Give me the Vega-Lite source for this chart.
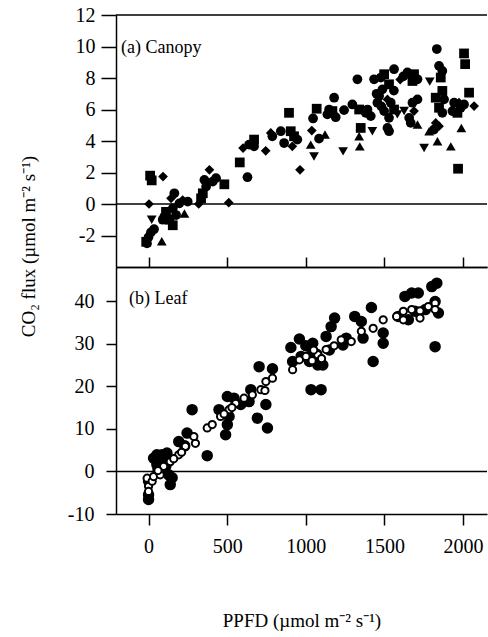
{
  "$schema": "https://vega.github.io/schema/vega-lite/v6.json",
  "background": "white",
  "padding": {"left": 19, "top": 5, "right": 0, "bottom": 5},
  "spacing": 0,
  "bounds": "flush",
  "config": {
    "view": {"stroke": null},
    "axis": {
      "grid": false,
      "domainColor": "black",
      "domainWidth": 1.5,
      "tickColor": "black",
      "tickWidth": 1.5,
      "labelColor": "black",
      "labelFont": "Liberation Serif",
      "labelFontSize": 20,
      "labelOverlap": false,
      "titleFont": "Liberation Serif",
      "titleFontSize": 19,
      "titleFontWeight": "normal",
      "titleColor": "black"
    }
  },
  "vconcat": [
    {
      "width": 371,
      "height": 252,
      "layer": [
        {
          "data": {"values": [{"flux": 0}, {"flux": 12}]},
          "mark": {"type": "rule", "color": "black", "strokeWidth": 1.5},
          "encoding": {
            "y": {
              "field": "flux",
              "type": "quantitative",
              "scale": {"domain": [-4, 12], "nice": false, "zero": false},
              "axis": {
                "values": [-2, 0, 2, 4, 6, 8, 10, 12],
                "labelExpr": "'' + datum.value",
                "tickSize": 15,
                "labelPadding": 6,
                "title": "CO₂ flux (µmol m⁻² s⁻¹)",
                "titleX": -88,
                "titleY": 231,
                "titleAngle": -90,
                "titleBaseline": "middle"
              }
            }
          }
        },
        {
          "data": {
            "values": [
              {"ppfd": 10, "flux": 1.8, "series": "q"},
              {"ppfd": 20, "flux": 1.5, "series": "q"},
              {"ppfd": 92, "flux": 1.74, "series": "m"},
              {"ppfd": 3, "flux": 0, "series": "m"},
              {"ppfd": 20, "flux": -1.0, "series": "d"},
              {"ppfd": 35, "flux": -1.6, "series": "c"},
              {"ppfd": 15, "flux": -1.8, "series": "c"},
              {"ppfd": 0, "flux": -2.1, "series": "c"},
              {"ppfd": -10, "flux": -2.5, "series": "c"},
              {"ppfd": -15, "flux": -2.4, "series": "q"},
              {"ppfd": 84, "flux": -2.36, "series": "u"},
              {"ppfd": 164, "flux": 0.68, "series": "c"},
              {"ppfd": 143, "flux": 0.36, "series": "m"},
              {"ppfd": 196, "flux": 0.04, "series": "c"},
              {"ppfd": 217, "flux": 0.25, "series": "m"},
              {"ppfd": 249, "flux": 0.15, "series": "c"},
              {"ppfd": 228, "flux": -0.6, "series": "u"},
              {"ppfd": 111, "flux": -0.5, "series": "q"},
              {"ppfd": 154, "flux": -0.28, "series": "c"},
              {"ppfd": 133, "flux": -1.0, "series": "q"},
              {"ppfd": 90, "flux": -1.0, "series": "c"},
              {"ppfd": 154, "flux": -1.35, "series": "q"},
              {"ppfd": 100, "flux": -0.8, "series": "c"},
              {"ppfd": 175, "flux": -0.7, "series": "c"},
              {"ppfd": 319, "flux": 0, "series": "m"},
              {"ppfd": 387, "flux": 2.17, "series": "m"},
              {"ppfd": 355, "flux": 1.53, "series": "c"},
              {"ppfd": 408, "flux": 1.42, "series": "c"},
              {"ppfd": 366, "flux": 1.1, "series": "c"},
              {"ppfd": 345, "flux": 0.68, "series": "q"},
              {"ppfd": 334, "flux": 0.36, "series": "q"},
              {"ppfd": 429, "flux": 1.64, "series": "c"},
              {"ppfd": 482, "flux": 1.25, "series": "q"},
              {"ppfd": 510, "flux": 0.08, "series": "m"},
              {"ppfd": 629, "flux": 1.7, "series": "c"},
              {"ppfd": 580, "flux": 2.64, "series": "q"},
              {"ppfd": 601, "flux": 3.55, "series": "m"},
              {"ppfd": 639, "flux": 3.77, "series": "c"},
              {"ppfd": 671, "flux": 4.09, "series": "q"},
              {"ppfd": 671, "flux": 3.66, "series": "c"},
              {"ppfd": 745, "flux": 3.38, "series": "m"},
              {"ppfd": 777, "flux": 4.51, "series": "m"},
              {"ppfd": 787, "flux": 4.3, "series": "c"},
              {"ppfd": 841, "flux": 4.62, "series": "c"},
              {"ppfd": 893, "flux": 5.79, "series": "q"},
              {"ppfd": 862, "flux": 3.87, "series": "c"},
              {"ppfd": 904, "flux": 4.62, "series": "q"},
              {"ppfd": 914, "flux": 3.66, "series": "m"},
              {"ppfd": 946, "flux": 4.09, "series": "c"},
              {"ppfd": 925, "flux": 4.3, "series": "q"},
              {"ppfd": 963, "flux": 2.17, "series": "m"},
              {"ppfd": 1031, "flux": 3.77, "series": "u"},
              {"ppfd": 1038, "flux": 4.66, "series": "m"},
              {"ppfd": 1052, "flux": 3.02, "series": "d"},
              {"ppfd": 1046, "flux": 5.43, "series": "c"},
              {"ppfd": 1069, "flux": 6.05, "series": "q"},
              {"ppfd": 1084, "flux": 4.15, "series": "c"},
              {"ppfd": 1122, "flux": 4.41, "series": "u"},
              {"ppfd": 1137, "flux": 5.69, "series": "c"},
              {"ppfd": 1148, "flux": 6.0, "series": "c"},
              {"ppfd": 1180, "flux": 6.75, "series": "c"},
              {"ppfd": 1190, "flux": 5.51, "series": "c"},
              {"ppfd": 1169, "flux": 5.9, "series": "q"},
              {"ppfd": 1237, "flux": 3.34, "series": "d"},
              {"ppfd": 1243, "flux": 5.96, "series": "c"},
              {"ppfd": 1296, "flux": 6.32, "series": "c"},
              {"ppfd": 1328, "flux": 7.92, "series": "c"},
              {"ppfd": 1339, "flux": 6.0, "series": "q"},
              {"ppfd": 1349, "flux": 4.83, "series": "q"},
              {"ppfd": 1339, "flux": 4.3, "series": "u"},
              {"ppfd": 1343, "flux": 3.66, "series": "u"},
              {"ppfd": 1381, "flux": 5.79, "series": "c"},
              {"ppfd": 1413, "flux": 5.58, "series": "c"},
              {"ppfd": 1392, "flux": 6.0, "series": "c"},
              {"ppfd": 1423, "flux": 4.62, "series": "d"},
              {"ppfd": 1434, "flux": 7.92, "series": "c"},
              {"ppfd": 1477, "flux": 8.03, "series": "c"},
              {"ppfd": 1498, "flux": 8.24, "series": "q"},
              {"ppfd": 1561, "flux": 8.56, "series": "c"},
              {"ppfd": 1529, "flux": 7.6, "series": "q"},
              {"ppfd": 1487, "flux": 7.28, "series": "c"},
              {"ppfd": 1466, "flux": 6.86, "series": "c"},
              {"ppfd": 1455, "flux": 6.43, "series": "c"},
              {"ppfd": 1519, "flux": 6.64, "series": "m"},
              {"ppfd": 1540, "flux": 6.43, "series": "c"},
              {"ppfd": 1498, "flux": 5.9, "series": "c"},
              {"ppfd": 1561, "flux": 6.0, "series": "q"},
              {"ppfd": 1529, "flux": 5.47, "series": "c"},
              {"ppfd": 1582, "flux": 5.69, "series": "d"},
              {"ppfd": 1519, "flux": 4.83, "series": "c"},
              {"ppfd": 1529, "flux": 4.62, "series": "c"},
              {"ppfd": 1625, "flux": 5.9, "series": "d"},
              {"ppfd": 1646, "flux": 8.35, "series": "c"},
              {"ppfd": 1688, "flux": 8.24, "series": "q"},
              {"ppfd": 1710, "flux": 7.92, "series": "c"},
              {"ppfd": 1678, "flux": 7.81, "series": "q"},
              {"ppfd": 1678, "flux": 6.43, "series": "c"},
              {"ppfd": 1710, "flux": 6.64, "series": "c"},
              {"ppfd": 1688, "flux": 5.9, "series": "m"},
              {"ppfd": 1657, "flux": 5.47, "series": "c"},
              {"ppfd": 1667, "flux": 5.15, "series": "c"},
              {"ppfd": 1710, "flux": 5.05, "series": "u"},
              {"ppfd": 1752, "flux": 3.55, "series": "d"},
              {"ppfd": 1788, "flux": 7.77, "series": "d"},
              {"ppfd": 1784, "flux": 4.62, "series": "u"},
              {"ppfd": 1833, "flux": 9.84, "series": "c"},
              {"ppfd": 1847, "flux": 8.77, "series": "c"},
              {"ppfd": 1868, "flux": 8.45, "series": "c"},
              {"ppfd": 1858, "flux": 8.03, "series": "q"},
              {"ppfd": 1868, "flux": 7.18, "series": "q"},
              {"ppfd": 1826, "flux": 6.75, "series": "q"},
              {"ppfd": 1879, "flux": 6.64, "series": "c"},
              {"ppfd": 1847, "flux": 6.11, "series": "q"},
              {"ppfd": 1868, "flux": 5.79, "series": "c"},
              {"ppfd": 1826, "flux": 5.15, "series": "m"},
              {"ppfd": 1847, "flux": 4.94, "series": "m"},
              {"ppfd": 1815, "flux": 4.73, "series": "c"},
              {"ppfd": 1837, "flux": 3.98, "series": "u"},
              {"ppfd": 1922, "flux": 3.66, "series": "u"},
              {"ppfd": 1932, "flux": 5.9, "series": "c"},
              {"ppfd": 1964, "flux": 5.79, "series": "q"},
              {"ppfd": 1985, "flux": 6.11, "series": "c"},
              {"ppfd": 2006, "flux": 6.32, "series": "c"},
              {"ppfd": 1974, "flux": 6.43, "series": "m"},
              {"ppfd": 1943, "flux": 6.43, "series": "c"},
              {"ppfd": 2006, "flux": 9.56, "series": "q"},
              {"ppfd": 2013, "flux": 8.88, "series": "q"},
              {"ppfd": 2038, "flux": 7.07, "series": "q"},
              {"ppfd": 2070, "flux": 6.22, "series": "m"},
              {"ppfd": 1989, "flux": 4.83, "series": "u"},
              {"ppfd": 1968, "flux": 2.24, "series": "q"},
              {"ppfd": 1450, "flux": 7.0, "series": "c"},
              {"ppfd": 1480, "flux": 6.2, "series": "c"},
              {"ppfd": 1600, "flux": 7.9, "series": "m"},
              {"ppfd": 1620, "flux": 8.1, "series": "c"},
              {"ppfd": 1560, "flux": 7.2, "series": "c"}
            ]
          },
          "mark": {"type": "point", "filled": true, "color": "black", "opacity": 1, "size": 95},
          "encoding": {
            "x": {
              "field": "ppfd",
              "type": "quantitative",
              "scale": {"domain": [-207, 2152], "nice": false, "zero": false},
              "axis": {"values": [0, 500, 1000, 1500, 2000], "labels": false, "ticks": false, "title": null}
            },
            "y": {
              "field": "flux",
              "type": "quantitative",
              "scale": {"domain": [-4, 12], "nice": false, "zero": false},
              "axis": {
                "values": [-2, 0, 2, 4, 6, 8, 10, 12],
                "labelExpr": "'' + datum.value",
                "tickSize": 15,
                "labelPadding": 6,
                "title": "CO₂ flux (µmol m⁻² s⁻¹)",
                "titleX": -88,
                "titleY": 231,
                "titleAngle": -90,
                "titleBaseline": "middle"
              }
            },
            "shape": {
              "field": "series",
              "type": "nominal",
              "scale": {"domain": ["c", "q", "u", "d", "m"], "range": ["circle", "square", "triangle-up", "triangle-down", "diamond"]},
              "legend": null
            }
          }
        },
        {
          "data": {"values": [{"label": "(a) Canopy"}]},
          "mark": {"type": "text", "align": "left", "baseline": "middle", "font": "Liberation Serif", "fontSize": 18, "color": "black"},
          "encoding": {
            "x": {
              "datum": -175,
              "type": "quantitative",
              "scale": {"domain": [-207, 2152], "nice": false, "zero": false},
              "axis": {"values": [0, 500, 1000, 1500, 2000], "labels": false, "ticks": false, "title": null}
            },
            "y": {
              "datum": 9.9,
              "type": "quantitative",
              "scale": {"domain": [-4, 12], "nice": false, "zero": false},
              "axis": {
                "values": [-2, 0, 2, 4, 6, 8, 10, 12],
                "labelExpr": "'' + datum.value",
                "tickSize": 15,
                "labelPadding": 6,
                "title": "CO₂ flux (µmol m⁻² s⁻¹)",
                "titleX": -88,
                "titleY": 231,
                "titleAngle": -90,
                "titleBaseline": "middle"
              }
            },
            "text": {"field": "label"}
          }
        }
      ]
    },
    {
      "width": 371,
      "height": 247,
      "resolve": {"axis": {"x": "independent"}},
      "layer": [
        {
          "data": {"values": [{"flux": 0}]},
          "mark": {"type": "rule", "color": "black", "strokeWidth": 1.5},
          "encoding": {
            "y": {
              "field": "flux",
              "type": "quantitative",
              "scale": {"domain": [-10, 48], "nice": false, "zero": false},
              "axis": {"values": [-10, 0, 10, 20, 30, 40], "labelExpr": "'' + datum.value", "tickSize": 10, "labelPadding": 12, "title": null}
            }
          }
        },
        {
          "data": {
            "values": [
              {"ppfd": 1833, "flux": 44.2, "kind": "observed"},
              {"ppfd": 1801, "flux": 43.4, "kind": "observed"},
              {"ppfd": 1630, "flux": 41.1, "kind": "observed"},
              {"ppfd": 1673, "flux": 41.9, "kind": "observed"},
              {"ppfd": 1715, "flux": 41.9, "kind": "observed"},
              {"ppfd": 1417, "flux": 38.5, "kind": "observed"},
              {"ppfd": 1353, "flux": 35.2, "kind": "observed"},
              {"ppfd": 1311, "flux": 36.4, "kind": "observed"},
              {"ppfd": 1183, "flux": 36.0, "kind": "observed"},
              {"ppfd": 1161, "flux": 34.0, "kind": "observed"},
              {"ppfd": 1492, "flux": 32.5, "kind": "observed"},
              {"ppfd": 1492, "flux": 30.1, "kind": "observed"},
              {"ppfd": 1428, "flux": 25.8, "kind": "observed"},
              {"ppfd": 1822, "flux": 29.3, "kind": "observed"},
              {"ppfd": 1843, "flux": 37.2, "kind": "observed"},
              {"ppfd": 1822, "flux": 39.9, "kind": "observed"},
              {"ppfd": 1364, "flux": 31.3, "kind": "observed"},
              {"ppfd": 905, "flux": 29.1, "kind": "observed"},
              {"ppfd": 959, "flux": 31.1, "kind": "observed"},
              {"ppfd": 1044, "flux": 30.1, "kind": "observed"},
              {"ppfd": 1033, "flux": 19.2, "kind": "observed"},
              {"ppfd": 1097, "flux": 19.2, "kind": "observed"},
              {"ppfd": 916, "flux": 25.8, "kind": "observed"},
              {"ppfd": 1023, "flux": 25.8, "kind": "observed"},
              {"ppfd": 1076, "flux": 25.0, "kind": "observed"},
              {"ppfd": 1108, "flux": 25.0, "kind": "observed"},
              {"ppfd": 1129, "flux": 31.7, "kind": "observed"},
              {"ppfd": 703, "flux": 24.6, "kind": "observed"},
              {"ppfd": 788, "flux": 24.1, "kind": "observed"},
              {"ppfd": 746, "flux": 15.7, "kind": "observed"},
              {"ppfd": 692, "flux": 12.5, "kind": "observed"},
              {"ppfd": 756, "flux": 10.2, "kind": "observed"},
              {"ppfd": 490, "flux": 8.6, "kind": "observed"},
              {"ppfd": 277, "flux": 14.5, "kind": "observed"},
              {"ppfd": 373, "flux": 3.7, "kind": "observed"},
              {"ppfd": 650, "flux": 19.2, "kind": "observed"},
              {"ppfd": 501, "flux": 17.6, "kind": "observed"},
              {"ppfd": 543, "flux": 17.2, "kind": "observed"},
              {"ppfd": 448, "flux": 14.5, "kind": "observed"},
              {"ppfd": 512, "flux": 12.9, "kind": "observed"},
              {"ppfd": 501, "flux": 11.0, "kind": "observed"},
              {"ppfd": 245, "flux": 9.0, "kind": "observed"},
              {"ppfd": 192, "flux": 7.0, "kind": "observed"},
              {"ppfd": 138, "flux": -3.1, "kind": "observed"},
              {"ppfd": 32, "flux": 3.1, "kind": "observed"},
              {"ppfd": 85, "flux": 3.9, "kind": "observed"},
              {"ppfd": 53, "flux": 1.6, "kind": "observed"},
              {"ppfd": 106, "flux": 2.3, "kind": "observed"},
              {"ppfd": 96, "flux": 0.4, "kind": "observed"},
              {"ppfd": 128, "flux": -0.8, "kind": "observed"},
              {"ppfd": 0, "flux": -5.5, "kind": "observed"},
              {"ppfd": 0, "flux": -6.6, "kind": "observed"},
              {"ppfd": 0, "flux": -2.3, "kind": "observed"},
              {"ppfd": 586, "flux": 15.7, "kind": "observed"},
              {"ppfd": 639, "flux": 16.4, "kind": "observed"},
              {"ppfd": 1236, "flux": 29.7, "kind": "observed"},
              {"ppfd": 1257, "flux": 31.3, "kind": "observed"},
              {"ppfd": 1588, "flux": 36.4, "kind": "observed"},
              {"ppfd": 1652, "flux": 35.6, "kind": "observed"},
              {"ppfd": 1694, "flux": 37.6, "kind": "observed"},
              {"ppfd": 53, "flux": 3.9, "kind": "observed"},
              {"ppfd": 117, "flux": 4.3, "kind": "observed"},
              {"ppfd": 75, "flux": 2.5, "kind": "observed"},
              {"ppfd": 60, "flux": 0.5, "kind": "observed"},
              {"ppfd": 110, "flux": 1.2, "kind": "observed"},
              {"ppfd": 150, "flux": -1.5, "kind": "observed"},
              {"ppfd": 230, "flux": 6.0, "kind": "observed"},
              {"ppfd": 1040, "flux": 28.0, "kind": "observed"},
              {"ppfd": 1070, "flux": 27.5, "kind": "observed"},
              {"ppfd": 970, "flux": 27.0, "kind": "observed"},
              {"ppfd": 1000, "flux": 29.5, "kind": "observed"},
              {"ppfd": 1150, "flux": 28.5, "kind": "observed"},
              {"ppfd": 1760, "flux": 38.0, "kind": "observed"},
              {"ppfd": 0, "flux": -3.5, "kind": "modeled"},
              {"ppfd": 0, "flux": -4.7, "kind": "modeled"},
              {"ppfd": -9, "flux": -1.6, "kind": "modeled"},
              {"ppfd": 23, "flux": -2.3, "kind": "modeled"},
              {"ppfd": 32, "flux": -1.2, "kind": "modeled"},
              {"ppfd": 74, "flux": -0.8, "kind": "modeled"},
              {"ppfd": 96, "flux": 1.2, "kind": "modeled"},
              {"ppfd": 138, "flux": 2.3, "kind": "modeled"},
              {"ppfd": 192, "flux": 3.9, "kind": "modeled"},
              {"ppfd": 234, "flux": 5.9, "kind": "modeled"},
              {"ppfd": 298, "flux": 6.6, "kind": "modeled"},
              {"ppfd": 288, "flux": 8.2, "kind": "modeled"},
              {"ppfd": 373, "flux": 10.2, "kind": "modeled"},
              {"ppfd": 405, "flux": 11.0, "kind": "modeled"},
              {"ppfd": 458, "flux": 12.9, "kind": "modeled"},
              {"ppfd": 512, "flux": 14.5, "kind": "modeled"},
              {"ppfd": 554, "flux": 16.0, "kind": "modeled"},
              {"ppfd": 607, "flux": 17.2, "kind": "modeled"},
              {"ppfd": 660, "flux": 18.0, "kind": "modeled"},
              {"ppfd": 714, "flux": 19.2, "kind": "modeled"},
              {"ppfd": 746, "flux": 21.1, "kind": "modeled"},
              {"ppfd": 788, "flux": 21.9, "kind": "modeled"},
              {"ppfd": 916, "flux": 23.9, "kind": "modeled"},
              {"ppfd": 959, "flux": 26.2, "kind": "modeled"},
              {"ppfd": 1001, "flux": 27.0, "kind": "modeled"},
              {"ppfd": 1076, "flux": 27.4, "kind": "modeled"},
              {"ppfd": 1129, "flux": 28.6, "kind": "modeled"},
              {"ppfd": 1225, "flux": 30.9, "kind": "modeled"},
              {"ppfd": 1289, "flux": 30.5, "kind": "modeled"},
              {"ppfd": 1353, "flux": 32.9, "kind": "modeled"},
              {"ppfd": 1428, "flux": 33.6, "kind": "modeled"},
              {"ppfd": 1492, "flux": 35.6, "kind": "modeled"},
              {"ppfd": 1577, "flux": 36.4, "kind": "modeled"},
              {"ppfd": 1620, "flux": 37.6, "kind": "modeled"},
              {"ppfd": 1673, "flux": 38.0, "kind": "modeled"},
              {"ppfd": 1726, "flux": 37.7, "kind": "modeled"},
              {"ppfd": 1779, "flux": 38.7, "kind": "modeled"},
              {"ppfd": 1822, "flux": 39.5, "kind": "modeled"},
              {"ppfd": 1620, "flux": 35.6, "kind": "modeled"},
              {"ppfd": 1726, "flux": 36.0, "kind": "modeled"},
              {"ppfd": 740, "flux": 19.0, "kind": "modeled"},
              {"ppfd": 1040, "flux": 26.0, "kind": "modeled"},
              {"ppfd": 1100, "flux": 26.5, "kind": "modeled"},
              {"ppfd": 1180, "flux": 29.5, "kind": "modeled"},
              {"ppfd": 1050, "flux": 28.5, "kind": "modeled"},
              {"ppfd": 60, "flux": 0.2, "kind": "modeled"},
              {"ppfd": 160, "flux": 3.0, "kind": "modeled"},
              {"ppfd": 210, "flux": 4.5, "kind": "modeled"},
              {"ppfd": 480, "flux": 13.5, "kind": "modeled"},
              {"ppfd": 530, "flux": 15.0, "kind": "modeled"},
              {"ppfd": 1822, "flux": 38.0, "kind": "modeled"}
            ]
          },
          "mark": {"type": "point", "filled": true, "stroke": "black", "strokeWidth": 2, "opacity": 1, "shape": "circle"},
          "encoding": {
            "x": {
              "field": "ppfd",
              "type": "quantitative",
              "scale": {"domain": [-207, 2152], "nice": false, "zero": false},
              "axis": {
                "orient": "bottom",
                "values": [0, 500, 1000, 1500, 2000],
                "format": "d",
                "tickSize": 11,
                "labelPadding": 11,
                "title": "PPFD (µmol m⁻² s⁻¹)",
                "titlePadding": 55
              }
            },
            "y": {
              "field": "flux",
              "type": "quantitative",
              "scale": {"domain": [-10, 48], "nice": false, "zero": false},
              "axis": {"values": [-10, 0, 10, 20, 30, 40], "labelExpr": "'' + datum.value", "tickSize": 10, "labelPadding": 12, "title": null}
            },
            "fill": {
              "field": "kind",
              "type": "nominal",
              "scale": {"domain": ["observed", "modeled"], "range": ["black", "white"]},
              "legend": null
            },
            "size": {
              "field": "kind",
              "type": "nominal",
              "scale": {"domain": ["observed", "modeled"], "range": [90, 52]},
              "legend": null
            }
          }
        },
        {
          "data": {"values": [{"label": "(b) Leaf"}]},
          "mark": {"type": "text", "align": "left", "baseline": "middle", "font": "Liberation Serif", "fontSize": 18, "color": "black"},
          "encoding": {
            "x": {
              "datum": -124,
              "type": "quantitative",
              "scale": {"domain": [-207, 2152], "nice": false, "zero": false},
              "axis": {
                "orient": "top",
                "values": [0, 500, 1000, 1500, 2000],
                "labels": false,
                "domain": true,
                "tickSize": 10,
                "title": null
              }
            },
            "y": {
              "datum": 40.6,
              "type": "quantitative",
              "scale": {"domain": [-10, 48], "nice": false, "zero": false},
              "axis": {"values": [-10, 0, 10, 20, 30, 40], "labelExpr": "'' + datum.value", "tickSize": 10, "labelPadding": 12, "title": null}
            },
            "text": {"field": "label"}
          }
        }
      ]
    }
  ]
}
